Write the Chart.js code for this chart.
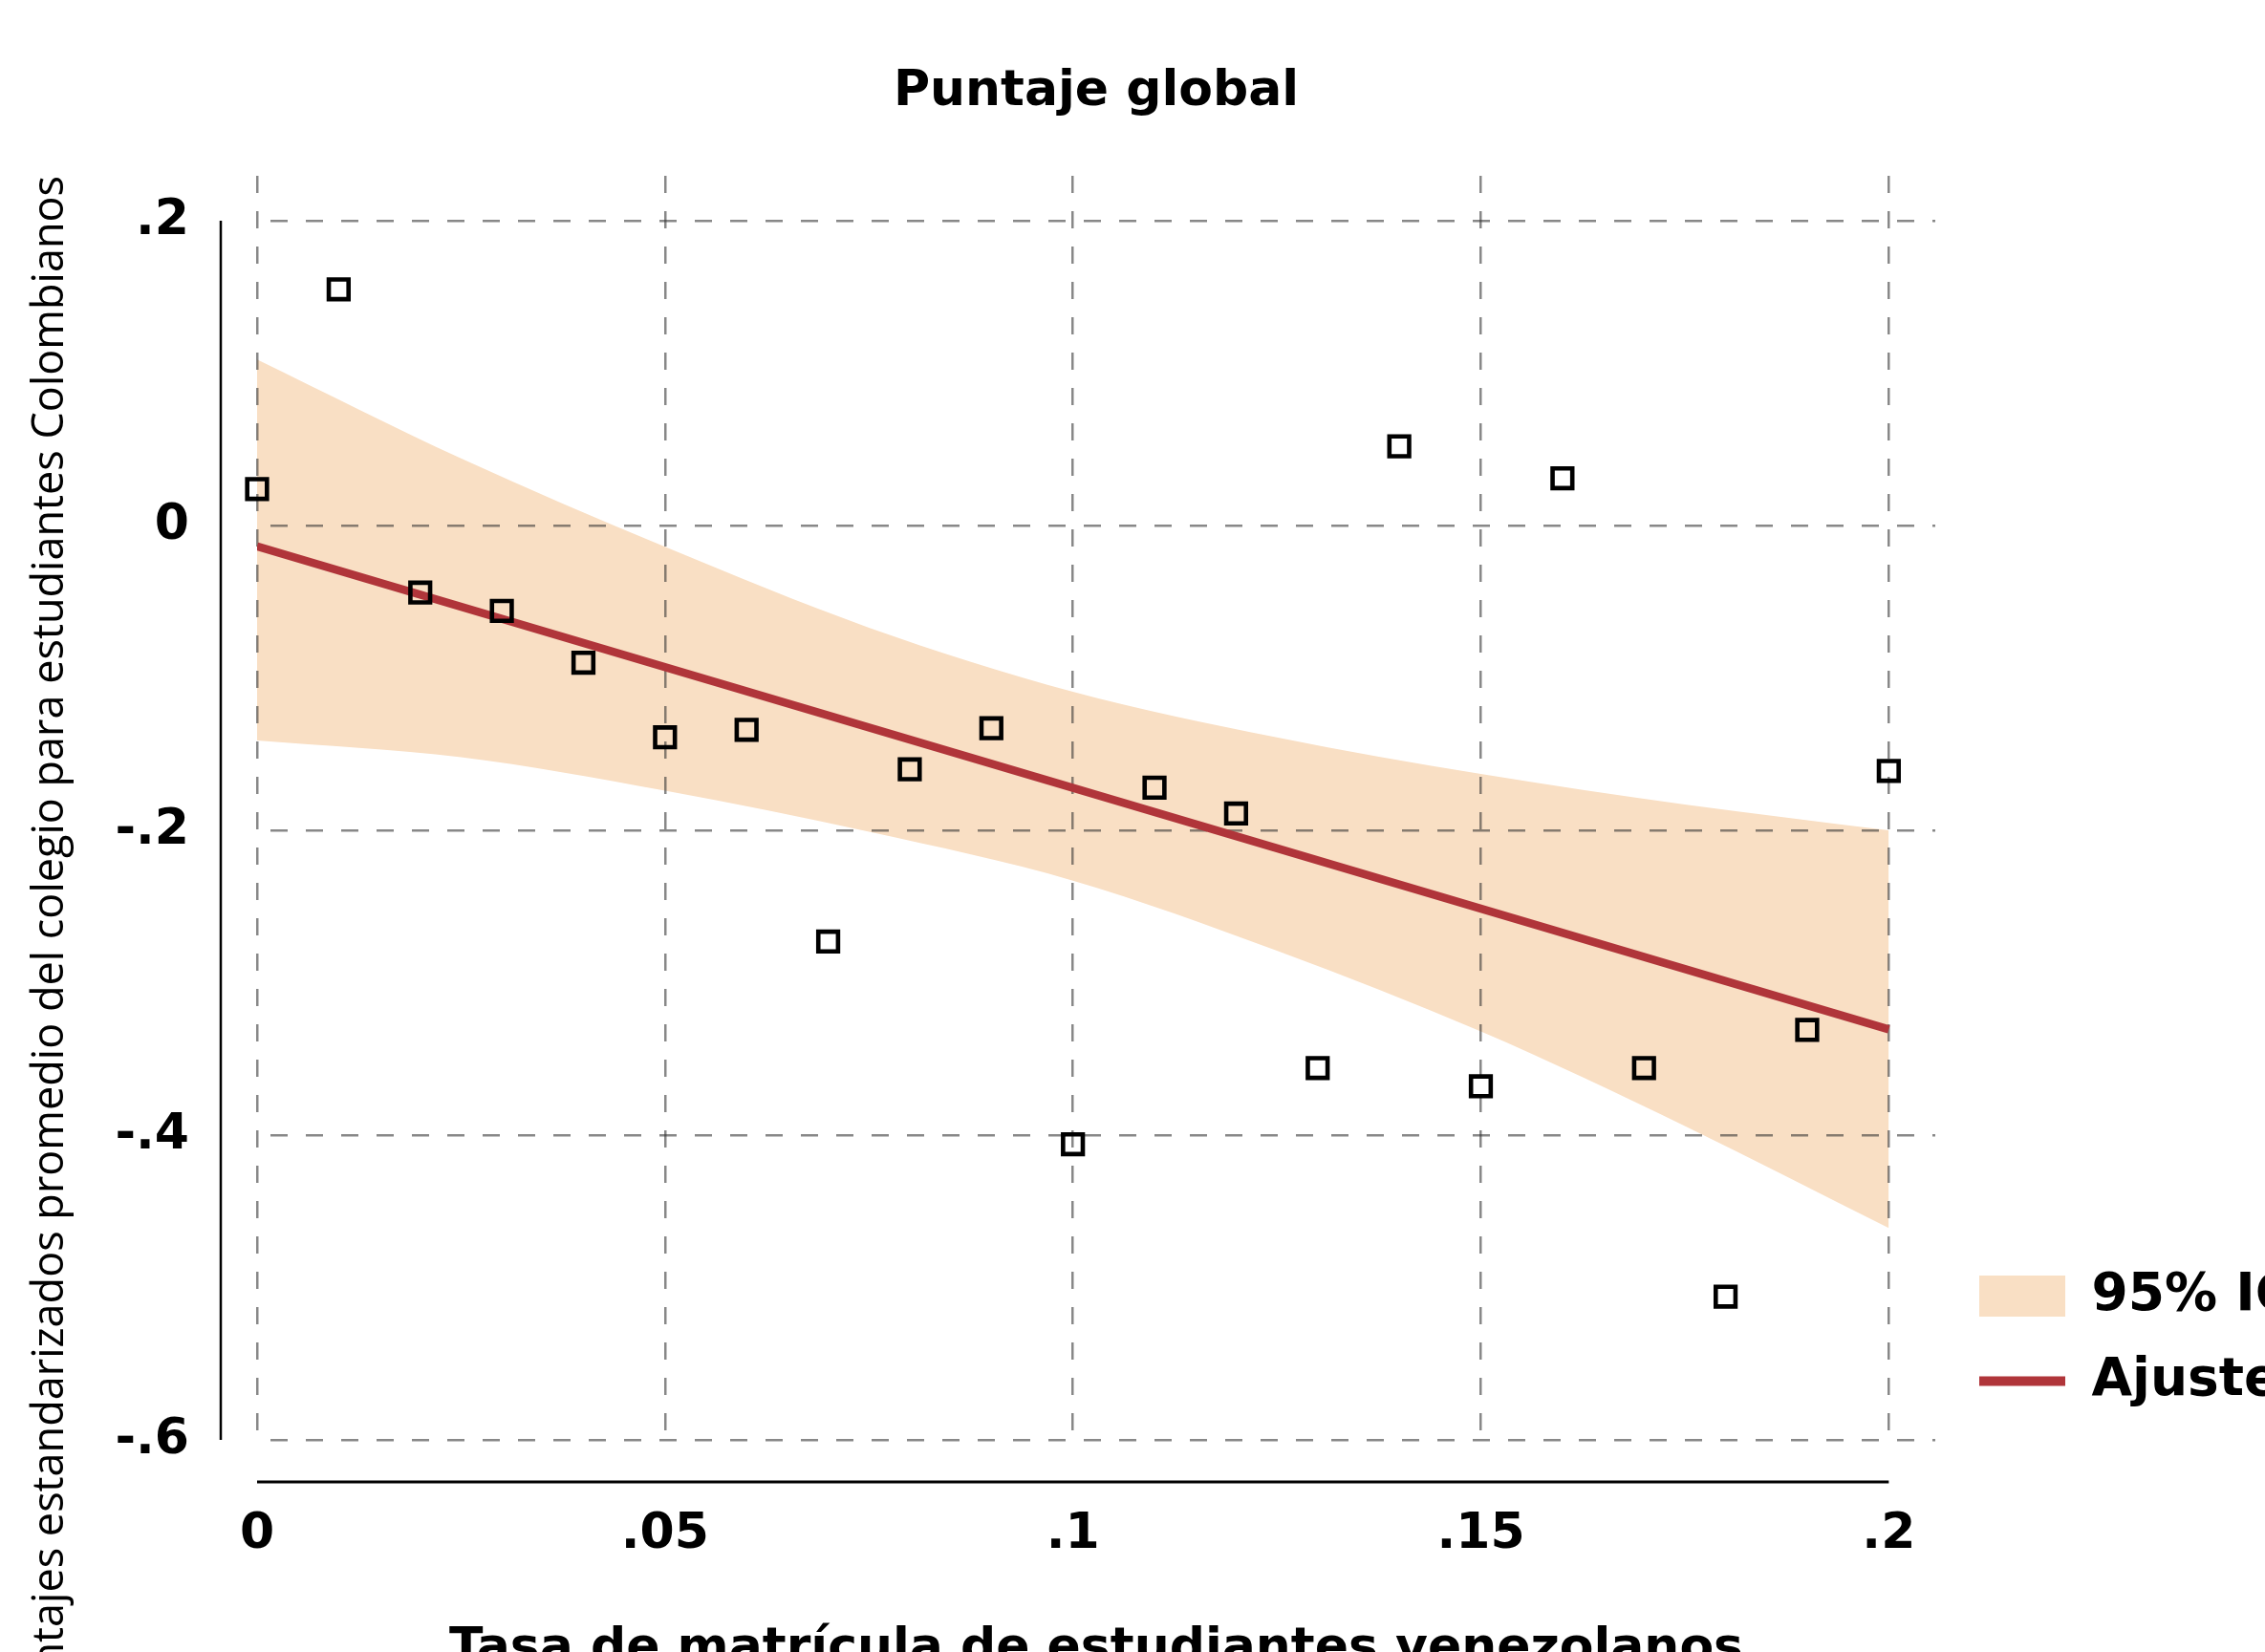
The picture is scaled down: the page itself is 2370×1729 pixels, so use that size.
<!DOCTYPE html>
<html>
<head>
<meta charset="utf-8">
<script src="https://cdn.jsdelivr.net/npm/chart.js@4.4.1/dist/chart.umd.min.js"></script>
<style>
  html, body { margin: 0; padding: 0; overflow: hidden; background: #ffffff; }
  #wrap { position: absolute; left: 0; top: 0; width: 2370px; height: 1800px; }
</style>
</head>
<body>
<div id="wrap"><canvas id="c"></canvas></div>
<script>
// ---------------- data ----------------
const chartTitle = 'Puntaje global';
const xAxisTitle = 'Tasa de matrícula de estudiantes venezolanos';
const yAxisTitle = 'Puntajes estandarizados promedio del colegio para estudiantes Colombianos';
const legendLabels = ['95% IC', 'Ajuste lineal'];

const xTickValues = [0, 0.05, 0.1, 0.15, 0.2];
const xTickLabels = ['0', '.05', '.1', '.15', '.2'];
const yTickValues = [-0.6, -0.4, -0.2, 0, 0.2];
const yTickLabels = ['-.6', '-.4', '-.2', '0', '.2'];

// binned scatter points
const binX = [0, 0.01, 0.02, 0.03, 0.04, 0.05, 0.06, 0.07, 0.08, 0.09, 0.10,
              0.11, 0.12, 0.13, 0.14, 0.15, 0.16, 0.17, 0.18, 0.19, 0.20];
const binY = [0.024, 0.155, -0.044, -0.056, -0.090, -0.139, -0.134, -0.273, -0.160, -0.133, -0.406,
              -0.172, -0.189, -0.356, 0.052, -0.368, 0.031, -0.356, -0.506, -0.331, -0.161];

// linear fit
const fitX = [0, 0.2];
const fitY = [-0.0136, -0.3306];

// 95% confidence band
const bandX     = [0, 0.025, 0.05, 0.075, 0.1, 0.125, 0.15, 0.175, 0.2];
const bandUpper = [0.109, 0.044, -0.014, -0.067, -0.109, -0.139, -0.163, -0.183, -0.200];
const bandLower = [-0.141, -0.152, -0.174, -0.201, -0.233, -0.279, -0.332, -0.394, -0.461];

// ---------------- style ----------------
const BOLD = '"DejaVu Sans", sans-serif';
const REG = '"Open Sans", sans-serif';
const bandColor = '#f9dfc4';
const lineColor = '#b0353a';
const gridColor = 'rgba(50,50,50,0.58)';

const pts = (xs, ys) => xs.map((x, i) => ({ x: x, y: ys[i] }));
const labelFor = (vals, labs, v) => {
  const i = vals.findIndex(t => Math.abs(t - v) < 1e-9);
  return i >= 0 ? labs[i] : '';
};

const axisLines = {
  id: 'axisLines',
  afterDraw(chart) {
    const { ctx, scales: { x, y } } = chart;
    ctx.save();
    ctx.strokeStyle = '#000';
    // y axis line (offset left of plot region)
    const yx = x.getPixelForValue(xTickValues[0]) - 38;
    ctx.lineWidth = 2.5;
    ctx.beginPath();
    ctx.moveTo(yx, y.getPixelForValue(yTickValues[yTickValues.length - 1]));
    ctx.lineTo(yx, y.getPixelForValue(yTickValues[0]));
    ctx.stroke();
    // x axis line (offset below plot region)
    const xy = y.getPixelForValue(yTickValues[0]) + 44;
    ctx.lineWidth = 3;
    ctx.beginPath();
    ctx.moveTo(x.getPixelForValue(xTickValues[0]), xy);
    ctx.lineTo(x.getPixelForValue(xTickValues[xTickValues.length - 1]), xy);
    ctx.stroke();
    ctx.restore();
  }
};

new Chart(document.getElementById('c'), {
  data: {
    datasets: [
      {
        type: 'scatter', label: 'bins', data: pts(binX, binY), order: 0, clip: false,
        pointStyle: 'rect', pointRadius: 14.6, pointBorderWidth: 4.6,
        pointBorderColor: '#000', pointBackgroundColor: 'rgba(0,0,0,0)',
        pointHoverRadius: 14.6
      },
      {
        type: 'line', label: legendLabels[1], data: pts(fitX, fitY), order: 1,
        borderColor: lineColor, borderWidth: 8.5, pointRadius: 0, fill: false
      },
      {
        type: 'line', label: legendLabels[0], data: pts(bandX, bandUpper), order: 2,
        borderWidth: 0, borderColor: 'rgba(0,0,0,0)', pointRadius: 0,
        cubicInterpolationMode: 'monotone', fill: '+1', backgroundColor: bandColor
      },
      {
        type: 'line', label: 'lower', data: pts(bandX, bandLower), order: 3,
        borderWidth: 0, borderColor: 'rgba(0,0,0,0)', pointRadius: 0,
        cubicInterpolationMode: 'monotone', fill: false
      }
    ]
  },
  options: {
    responsive: true,
    maintainAspectRatio: false,
    animation: false,
    devicePixelRatio: 1,
    events: [],
    layout: { padding: 0 },
    plugins: {
      filler: { drawTime: 'beforeDraw' },
      tooltip: { enabled: false },
      title: {
        display: true, text: chartTitle, fullSize: false, color: '#000',
        font: { family: BOLD, weight: 'bold', size: 52, lineHeight: 1.2 },
        padding: { top: 64.8, bottom: 56.8 }
      },
      legend: {
        display: true, position: 'right', align: 'end', fullSize: false, maxWidth: 333,
        labels: {
          usePointStyle: true, pointStyleWidth: 90, boxHeight: 43, padding: 34,
          color: '#000',
          font: { family: BOLD, weight: 'bold', size: 55 },
          generateLabels: () => [
            { text: legendLabels[0], fillStyle: bandColor, strokeStyle: 'rgba(0,0,0,0)',
              lineWidth: 0, pointStyle: 'rect', hidden: false, datasetIndex: 2, fontColor: '#000' },
            { text: legendLabels[1], fillStyle: lineColor, strokeStyle: lineColor,
              lineWidth: 10, pointStyle: 'line', hidden: false, datasetIndex: 1, fontColor: '#000' }
          ]
        }
      }
    },
    scales: {
      x: {
        type: 'linear', position: 'bottom', min: 0, max: 0.2057,
        afterBuildTicks: s => { s.ticks = xTickValues.map(v => ({ value: v })); },
        afterFit: s => { s.height = 293; },
        grid: { color: gridColor, lineWidth: 2.5, drawTicks: false },
        border: { display: false, dash: [18, 19], dashOffset: 0 },
        ticks: {
          autoSkip: false, maxRotation: 0, padding: 68, color: '#000',
          font: { family: BOLD, weight: 'bold', size: 52 },
          callback: v => labelFor(xTickValues, xTickLabels, v)
        },
        title: {
          display: true, text: xAxisTitle, color: '#000',
          font: { family: BOLD, weight: 'bold', size: 52, lineHeight: 1.2 },
          padding: { top: 0, bottom: 42.8 }
        }
      },
      y: {
        type: 'linear', position: 'left', min: -0.6, max: 0.2295,
        afterBuildTicks: s => { s.ticks = yTickValues.map(v => ({ value: v })); },
        afterFit: s => { s.width = 269; },
        grid: { color: gridColor, lineWidth: 2.5, drawTicks: false },
        border: { display: false, dash: [18, 19], dashOffset: 23 },
        ticks: {
          autoSkip: false, padding: 71, color: '#000',
          font: { family: BOLD, weight: 'bold', size: 52 },
          callback: v => labelFor(yTickValues, yTickLabels, v)
        },
        title: {
          display: true, text: yAxisTitle, color: '#000', align: 'end',
          font: { family: REG, weight: 'normal', size: 45, lineHeight: 1.2 },
          padding: { top: 26, bottom: 0 }
        }
      },
      spacer: {
        type: 'linear', position: 'right', display: true,
        afterFit: s => { s.width = 12; },
        grid: { display: false, drawTicks: false },
        border: { display: false },
        ticks: { display: false }
      }
    }
  },
  plugins: [axisLines]
});
</script>
</body>
</html>
